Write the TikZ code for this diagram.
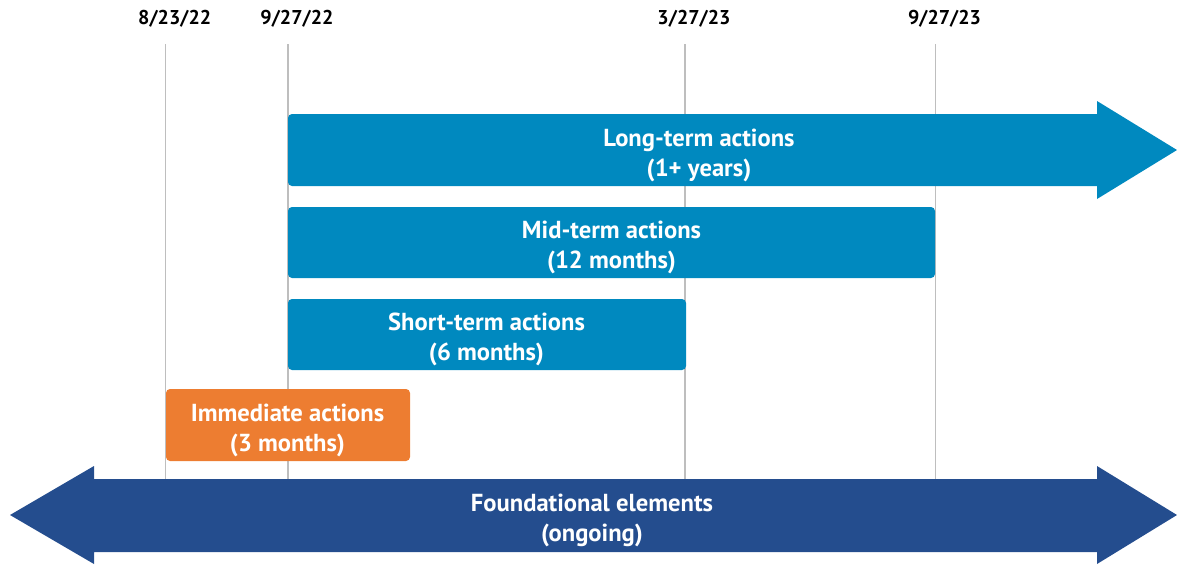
\documentclass[tikz,border=0pt]{standalone}
\usepackage{fontspec}
\setmainfont{PT Sans}
\usepackage{tikz}
\usetikzlibrary{positioning}
\usetikzlibrary{calc}

\definecolor{ltblue}{RGB}{0,137,191}
\definecolor{fdblue}{RGB}{36,77,142}
\definecolor{immorange}{RGB}{237,125,49}
\definecolor{gridgray}{RGB}{190,190,190}

\begin{document}
\begin{tikzpicture}[x=1pt, y=-1pt,
  bartext/.style={text=white, font=\fontsize{24.6}{30}\selectfont\bfseries, align=center},
  datelabel/.style={font=\fontsize{20}{24}\selectfont\bfseries},
  gridline/.style={draw=gridgray, line width=1.1pt}]

  \useasboundingbox (0,0) rectangle (1177,565);

	%dates and grid lines
    \foreach \x/\lab/\name in {165.7/{8/23/22}/dA, 288/{9/27/22}/dB, 685/{3/27/23}/dC, 935.5/{9/27/23}/dD}{
           \node[datelabel] (\name) at (\x+9, 19) {\lab};
           \coordinate (\name top) at (\x, 44);
           \coordinate (\name bot) at (\x, 479);
           \draw[gridline] (\name top) -- (\name bot);
    }

%long-term
  \fill[ltblue] (1097,114) -- (1097,101) -- (1177,150) -- (1097,199) -- (1097,186)
        [rounded corners=4pt] -- (288,186) -- (288,114) -- (1097,114);
  \node[bartext] (long) at (699,155) {Long-term actions\\(1+ years)};

%mid, short, immediate
  \fill[ltblue, rounded corners=4pt] (288,207) rectangle (935,278);
  \node[bartext] (mid) at (611.5,247) {Mid-term actions\\(12 months)};

  \fill[ltblue, rounded corners=4pt] (288,299) rectangle (686,370);
  \node[bartext] (short) at (486.5,339) {Short-term actions\\(6 months)};

  \fill[immorange, rounded corners=4pt] (166,389) rectangle (410,461);
  \node[bartext] (immed) at (287.5,430.5) {Immediate actions\\(3 months)};

%foundational
  \fill[fdblue] (10,515) -- (94,466) -- (94,479) -- (1097,479) -- (1097,466) -- (1177,515)
        -- (1097,564) -- (1097,552) -- (94,552) -- (94,564) -- cycle;
  \node[bartext] (found) at (592,520.5) {Foundational elements\\(ongoing)};

\end{tikzpicture}
\end{document}
